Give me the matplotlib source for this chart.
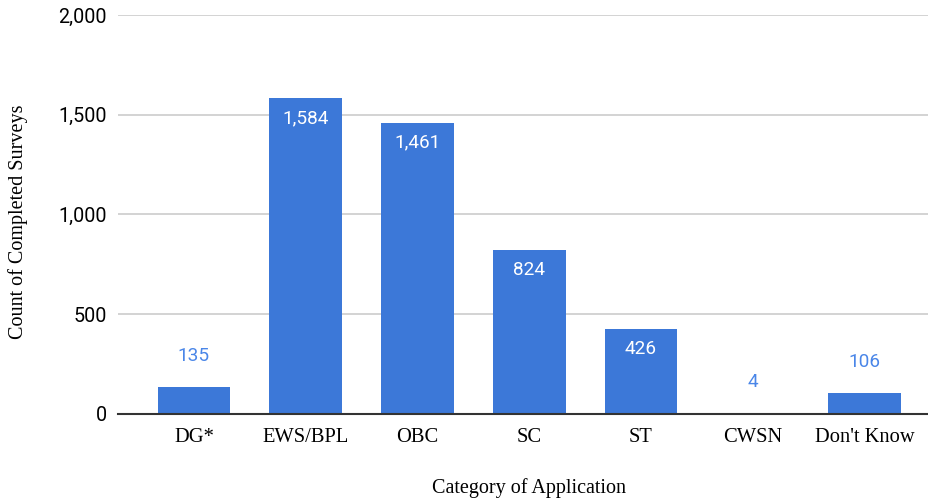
import matplotlib
matplotlib.use("Agg")
import matplotlib.pyplot as plt
from matplotlib.ticker import FuncFormatter

categories = ["DG*", "EWS/BPL", "OBC", "SC", "ST", "CWSN", "Don't Know"]
counts = [135, 1584, 1461, 824, 426, 4, 106]
y_ticks = [0, 500, 1000, 1500, 2000]

bar_color = "#3c78d8"
outside_color = "#4a86e8"

fig = plt.figure(figsize=(9.29, 5.04), dpi=100)
ax = fig.add_axes([0.127, 0.179, 0.873, 0.791])

x = list(range(len(categories)))
ax.bar(x, counts, width=0.65, color=bar_color, zorder=3)

# value labels: inside the bar when tall enough, above otherwise
for xi, v in zip(x, counts):
    txt = f"{v:,}"
    if v > 300:
        ax.annotate(txt, (xi, v), xytext=(0, -20), textcoords="offset pixels",
                    ha="center", va="center", color="white", fontsize=13.7,
                    family="Roboto", zorder=4)
    else:
        ax.annotate(txt, (xi, v), xytext=(0, 31), textcoords="offset pixels",
                    ha="center", va="center", color=outside_color, fontsize=13.7,
                    family="Roboto", zorder=4)

ax.set_xlim(-0.68, 6.577)
ax.set_ylim(0, 2000)
ax.set_yticks(y_ticks)
ax.yaxis.set_major_formatter(FuncFormatter(lambda v, p: f"{int(v):,}"))
ax.set_xticks(x)
ax.set_xticklabels(categories, family="Liberation Serif", fontsize=14.8)
for lab in ax.get_yticklabels():
    lab.set_family("Roboto")
    lab.set_fontsize(14.2)

ax.tick_params(axis="both", length=0)
ax.tick_params(axis="y", pad=8)
ax.tick_params(axis="x", pad=10)
ax.grid(axis="y", color="#cccccc", linewidth=1.2, zorder=0)
for s in ["top", "right", "left"]:
    ax.spines[s].set_visible(False)
ax.spines["bottom"].set_color("#333333")
ax.spines["bottom"].set_linewidth(1.5)
ax.spines["bottom"].set_zorder(5)

fig.text(0.569, 1 - 488 / 504, "Category of Application", ha="center", va="center",
         family="Liberation Serif", fontsize=14.5)
fig.text(18 / 929, 1 - 222 / 504, "Count of Completed Surveys", ha="center", va="center",
         rotation=90, family="Liberation Serif", fontsize=14.5)

fig.savefig("out.png", dpi=100)
